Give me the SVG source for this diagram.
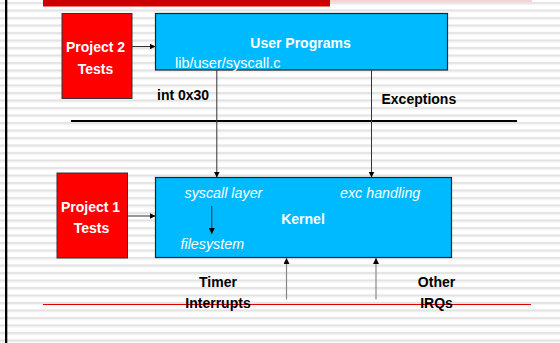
<svg xmlns="http://www.w3.org/2000/svg" width="560" height="343" viewBox="0 0 560 343">
<defs>
<pattern id="stripes" x="0" y="0" width="10" height="7.5" patternUnits="userSpaceOnUse">
<rect x="0" y="0" width="10" height="7.5" fill="#ffffff"/>
<rect x="0" y="2" width="10" height="2" fill="#e2e2e2"/>
<rect x="0" y="4" width="10" height="1" fill="#f0f0f0"/>
</pattern>
<marker id="ah" viewBox="0 0 6 6" refX="6" refY="3" markerWidth="6" markerHeight="6" markerUnits="userSpaceOnUse" orient="auto">
<path d="M0,0 L6,3 L0,6 Z" fill="#000"/>
</marker>
<style>
.bold{font-family:"Liberation Sans",Arial,sans-serif;font-weight:bold;font-size:14px;}
.wb{fill:#fff;}
.kb{fill:#000;}
.reg{font-family:"Liberation Sans",Arial,sans-serif;font-size:14.5px;fill:#fff;}
.it{font-family:"Liberation Sans",Arial,sans-serif;font-size:14.3px;font-style:italic;fill:#fff;}
.redbox{fill:#ff0000;stroke:#333;stroke-width:1;}
.bluebox{fill:#00baff;stroke:#222;stroke-width:1.2;}
.conn{stroke:#333;stroke-width:1;fill:none;}
.up{stroke:#888;stroke-width:1.2;fill:none;}
</style>
</defs>
<rect x="0" y="0" width="560" height="343" fill="url(#stripes)"/>
<rect x="5" y="0" width="2.3" height="343" fill="#000"/>
<rect x="43" y="0" width="287" height="6.5" fill="#cc0000"/>
<rect x="330" y="0" width="202" height="2" fill="#f6d4d4"/>
<line x1="71" y1="121" x2="517" y2="121" stroke="#000" stroke-width="2"/>
<line x1="43" y1="304.5" x2="531" y2="304.5" stroke="#e00000" stroke-width="1"/>

<g id="project2">
<rect class="redbox" x="62" y="13.5" width="70" height="85"/>
<text class="bold wb" x="95.5" y="52.3" text-anchor="middle">Project 2</text>
<text class="bold wb" x="95.5" y="73.5" text-anchor="middle">Tests</text>
</g>

<g id="userprograms">
<rect class="bluebox" x="155.5" y="13.5" width="292" height="56.5"/>
<text class="bold wb" x="300.5" y="48.3" text-anchor="middle">User Programs</text>
<text class="reg" x="175" y="67.5">lib/user/syscall.c</text>
</g>

<g id="project1">
<rect class="redbox" x="57" y="173" width="70.5" height="85"/>
<text class="bold wb" x="90.5" y="212" text-anchor="middle">Project 1</text>
<text class="bold wb" x="91.5" y="233" text-anchor="middle">Tests</text>
</g>

<g id="kernel">
<rect class="bluebox" x="155.5" y="177.5" width="296" height="80"/>
<text class="it" x="184.5" y="198">syscall layer</text>
<text class="it" x="340" y="198">exc handling</text>
<text class="bold wb" x="303" y="224" text-anchor="middle">Kernel</text>
<text class="it" x="180.5" y="249">filesystem</text>
</g>

<g id="labels">
<text class="bold kb" x="157" y="100">int 0x30</text>
<text class="bold kb" x="381.5" y="103.5">Exceptions</text>
<text class="bold kb" x="218" y="287" text-anchor="middle">Timer</text>
<text class="bold kb" x="218" y="308" text-anchor="middle">Interrupts</text>
<text class="bold kb" x="436.5" y="287" text-anchor="middle">Other</text>
<text class="bold kb" x="436.5" y="308" text-anchor="middle">IRQs</text>
</g>

<g id="connectors">
<line class="conn" x1="132" y1="46.5" x2="155.5" y2="46.5" marker-end="url(#ah)"/>
<line class="conn" x1="127.5" y1="216" x2="155.5" y2="216" marker-end="url(#ah)"/>
<line class="conn" x1="216.8" y1="70" x2="216.8" y2="177.5" marker-end="url(#ah)"/>
<line class="conn" x1="371.5" y1="70" x2="371.5" y2="177.5" marker-end="url(#ah)"/>
<line class="conn" x1="211.8" y1="206" x2="211.8" y2="234" stroke="#000" marker-end="url(#ah)"/>
<line class="up" x1="286.5" y1="299.5" x2="286.5" y2="258" marker-end="url(#ah)"/>
<line class="up" x1="376" y1="299.5" x2="376" y2="258" marker-end="url(#ah)"/>
</g>
</svg>
